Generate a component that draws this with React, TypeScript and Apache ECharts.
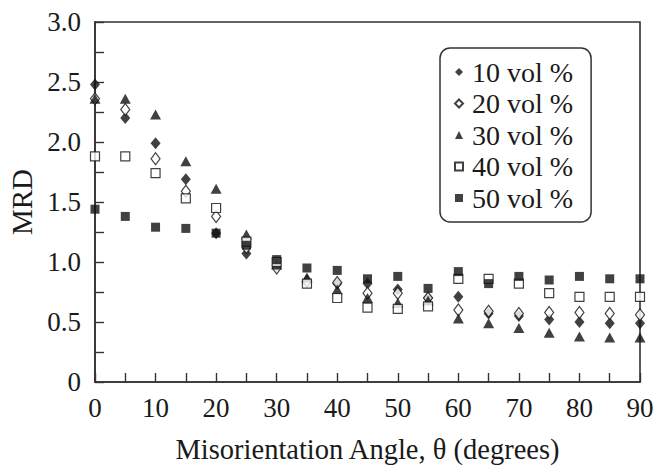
import React, { useEffect, useRef } from "react";
import * as echarts from "echarts";

const angles = [0, 5, 10, 15, 20, 25, 30, 35, 40, 45, 50, 55, 60, 65, 70, 75, 80, 85, 90];
const vol10 = [2.48, 2.2, 1.99, 1.69, 1.24, 1.07, 0.97, 0.84, 0.82, 0.82, 0.77, 0.7, 0.71, 0.57, 0.55, 0.52, 0.5, 0.49, 0.49];
const vol20 = [2.36, 2.27, 1.86, 1.59, 1.38, 1.12, 0.95, 0.84, 0.83, 0.74, 0.74, 0.7, 0.6, 0.59, 0.57, 0.58, 0.58, 0.57, 0.56];
const vol30 = [2.36, 2.36, 2.23, 1.84, 1.61, 1.23, 0.98, 0.87, 0.77, 0.7, 0.66, 0.68, 0.53, 0.49, 0.45, 0.41, 0.38, 0.37, 0.37];
const vol40 = [1.88, 1.88, 1.74, 1.53, 1.45, 1.17, 1.0, 0.82, 0.7, 0.62, 0.61, 0.63, 0.86, 0.86, 0.82, 0.74, 0.71, 0.71, 0.71];
const vol50 = [1.44, 1.38, 1.29, 1.28, 1.24, 1.14, 1.02, 0.95, 0.93, 0.86, 0.88, 0.78, 0.92, 0.82, 0.88, 0.85, 0.88, 0.86, 0.86];
const seriesNames = ["10 vol %", "20 vol %", "30 vol %", "40 vol %", "50 vol %"];

const FONT = "Liberation Serif";
const INK = "#1a1a1a";

export default function App() {
  const ref = useRef<HTMLDivElement>(null);
  useEffect(() => {
    if (!ref.current) return;
    const chart = echarts.init(ref.current, undefined, { renderer: "svg" });
    const pair = (vals: number[]) => angles.map((a, i) => [a, vals[i]]);
    const mk = (name: string, vals: number[], symbol: string, size: number | number[], open: boolean) => ({
      name,
      type: "scatter",
      data: pair(vals),
      symbol,
      symbolSize: size,
      itemStyle: open
        ? { color: "#fff", borderColor: "#111", borderWidth: 1.2 }
        : { color: "#111", borderColor: "#111", borderWidth: 0 },
      emphasis: { disabled: true },
    });
    chart.setOption({
      animation: false,
      textStyle: { fontFamily: FONT },
      grid: {
        left: 95,
        right: 13,
        top: 22,
        bottom: 84,
        containLabel: false,
        outerBoundsMode: "none",
        show: true,
        borderColor: "#333",
        borderWidth: 1.6,
        backgroundColor: "transparent",
      },
      legend: {
        orient: "vertical",
        left: 440,
        top: 48,
        padding: [10, 18, 10, 14],
        borderColor: "#333",
        borderWidth: 1.5,
        borderRadius: 10,
        itemGap: 3.5,
        itemWidth: 8,
        itemHeight: 8,
        data: seriesNames,
        textStyle: {
          fontFamily: FONT,
          fontSize: 28,
          lineHeight: 28,
          color: INK,
          padding: [0, 0, 0, 4],
        },
      },
      xAxis: {
        type: "value",
        min: 0,
        max: 90,
        interval: 5,
        name: "Misorientation Angle, θ (degrees)",
        nameLocation: "middle",
        nameGap: 53,
        nameTextStyle: { fontFamily: FONT, fontSize: 28.5, color: INK },
        axisLine: { show: true, lineStyle: { color: "#333", width: 1.6 } },
        axisTick: { show: true, inside: true, length: 9, lineStyle: { color: "#333", width: 1.4 } },
        axisLabel: {
          margin: 12,
          fontFamily: FONT,
          fontSize: 27,
          color: INK,
          formatter: (v: number) => (v % 10 === 0 ? String(v) : ""),
        },
        splitLine: { show: false },
      },
      yAxis: {
        type: "value",
        min: 0,
        max: 3,
        interval: 0.25,
        name: "MRD",
        nameLocation: "middle",
        nameGap: 58,
        nameTextStyle: { fontFamily: FONT, fontSize: 29, color: INK },
        axisLine: { show: true, lineStyle: { color: "#333", width: 1.6 } },
        axisTick: { show: true, inside: true, length: 9, lineStyle: { color: "#333", width: 1.4 } },
        axisLabel: {
          margin: 14,
          fontFamily: FONT,
          fontSize: 27,
          color: INK,
          formatter: (v: number) => {
            const r = Math.round(v * 100);
            if (r % 50 !== 0) return "";
            return r === 0 ? "0" : v.toFixed(1);
          },
        },
        splitLine: { show: false },
      },
      series: [
        mk(seriesNames[0], vol10, "diamond", [10, 12], false),
        mk(seriesNames[1], vol20, "diamond", [9, 12], true),
        mk(seriesNames[2], vol30, "triangle", [11, 10], false),
        mk(seriesNames[3], vol40, "rect", [9, 9], true),
        mk(seriesNames[4], vol50, "rect", [9, 9], false),
      ],
    });
    return () => chart.dispose();
  }, []);
  return (
    <div
      ref={ref}
      style={{ position: "absolute", left: 0, top: 0, width: 653, height: 466, background: "#fff" }}
    />
  );
}
